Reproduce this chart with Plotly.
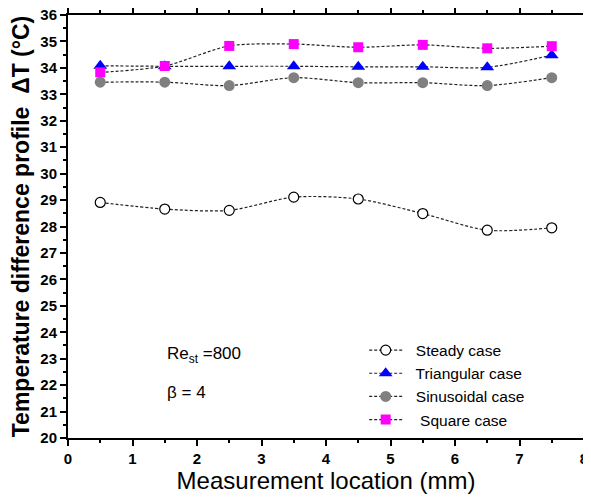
import plotly.graph_objects as go

x_loc = [0.5, 1.5, 2.5, 3.5, 4.5, 5.5, 6.5, 7.5]
steady = [28.91, 28.66, 28.61, 29.11, 29.04, 28.49, 27.86, 27.95]
triangular = [34.08, 34.06, 34.06, 34.06, 34.04, 34.04, 34.02, 34.48]
sinusoidal = [33.46, 33.46, 33.33, 33.63, 33.44, 33.44, 33.33, 33.63]
square = [33.83, 34.07, 34.83, 34.9, 34.78, 34.87, 34.74, 34.82]

series_names = ["  Steady case", "  Triangular case", "  Sinusoidal case", "   Square case"]

FONT = "Arial, Liberation Sans, sans-serif"
line_style = dict(color="#222222", width=1.2, dash="3px,2px", shape="spline", smoothing=0.8)

fig = go.Figure()
fig.add_trace(go.Scatter(x=x_loc, y=steady, name=series_names[0], mode="lines+markers",
                         line=line_style,
                         marker=dict(symbol="circle", size=10, color="white",
                                     line=dict(color="black", width=1.2))))
fig.add_trace(go.Scatter(x=x_loc, y=triangular, name=series_names[1], mode="lines+markers",
                         line=line_style,
                         marker=dict(symbol="triangle-up", size=12, color="#0000ff",
                                     line=dict(width=0))))
fig.add_trace(go.Scatter(x=x_loc, y=sinusoidal, name=series_names[2], mode="lines+markers",
                         line=line_style,
                         marker=dict(symbol="circle", size=11, color="#808080",
                                     line=dict(width=0))))
fig.add_trace(go.Scatter(x=x_loc, y=square, name=series_names[3], mode="lines+markers",
                         line=line_style,
                         marker=dict(symbol="square", size=10, color="#ff00ff",
                                     line=dict(width=0))))

# the page body adds an 8px offset, so the figure is sized to fill the rest of the window
fig.update_layout(
    width=583, height=489,
    margin=dict(l=60, r=7, t=7, b=59),
    paper_bgcolor="white", plot_bgcolor="white",
    font=dict(family=FONT, color="black"),
    legend=dict(x=0.574, y=0.247, xanchor="left", yanchor="top",
                bgcolor="rgba(0,0,0,0)", font=dict(size=15.5, family=FONT),
                tracegroupgap=0, itemwidth=33),
    annotations=[
        dict(text="Re<sub>st</sub> =800", x=1.5, y=23.14, xref="x", yref="y",
             xanchor="left", yanchor="middle", showarrow=False,
             font=dict(size=17, family=FONT)),
        dict(text="β = 4", x=1.5, y=21.74, xref="x", yref="y",
             xanchor="left", yanchor="middle", showarrow=False,
             font=dict(size=17, family=FONT)),
    ],
)

fig.update_xaxes(range=[0, 8], dtick=1, tick0=0, showgrid=False, zeroline=False,
                 automargin=False, ticklabeloverflow="allow",
                 showline=True, linecolor="black", linewidth=2, mirror="ticks",
                 ticks="outside", ticklen=6, tickwidth=2, tickcolor="black",
                 minor=dict(dtick=0.5, ticks="outside", ticklen=3, tickwidth=2, tickcolor="black"),
                 tickfont=dict(size=15, family=FONT, weight="bold"),
                 title=dict(text="Measurement location (mm)", font=dict(size=24, family=FONT), standoff=0))
fig.update_yaxes(range=[20, 36], dtick=1, tick0=20, showgrid=False, zeroline=False,
                 automargin=False, ticklabeloverflow="allow",
                 showline=True, linecolor="black", linewidth=2, mirror="ticks",
                 ticks="outside", ticklen=6, tickwidth=2, tickcolor="black",
                 minor=dict(dtick=0.5, ticks="outside", ticklen=3, tickwidth=2, tickcolor="black"),
                 tickfont=dict(size=15, family=FONT, weight="bold"),
                 title=dict(text="Temperature difference profile  ΔT (°C)",
                            font=dict(size=23, family=FONT, weight="bold"), standoff=7))

fig.write_html("out.html")
